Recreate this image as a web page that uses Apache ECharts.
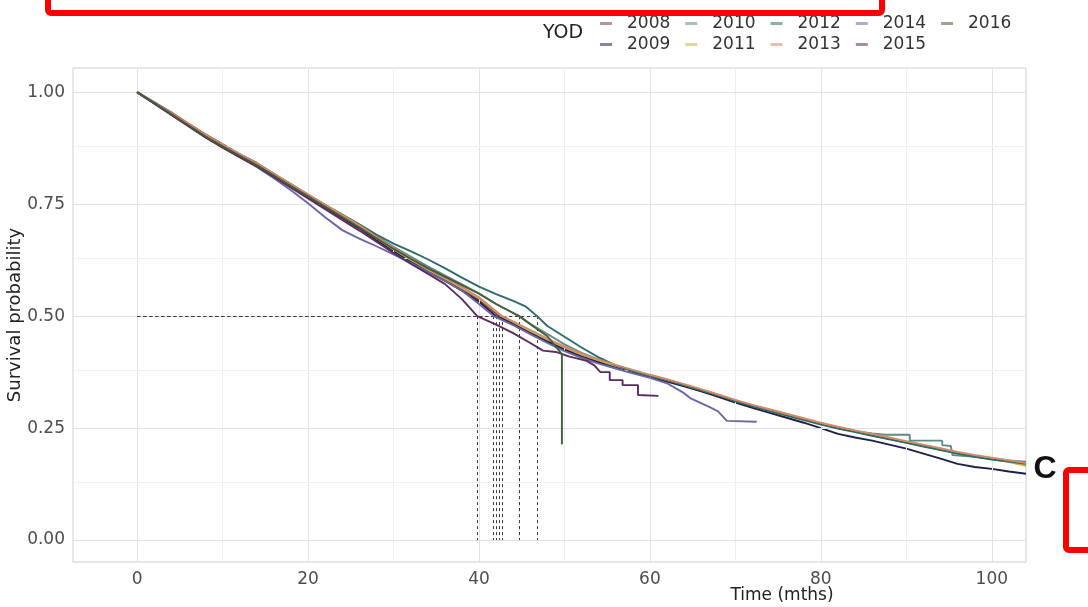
<!DOCTYPE html>
<html>
<head>
<meta charset="utf-8">
<script src="https://cdn.jsdelivr.net/npm/echarts@6/dist/echarts.min.js"></script>
<style>
  html, body { margin: 0; padding: 0; background: #ffffff; }
  #chart { width: 1088px; height: 607px; }
</style>
</head>
<body>
<div id="chart"></div>
<script>
// Kaplan–Meier survival by year of diagnosis (YOD): [months, survival probability]
const years = ['2008', '2009', '2010', '2011', '2012', '2013', '2014', '2015', '2016'];

const yod2008 = [[0,1],[2,0.978],[4,0.955],[6,0.93],[8,0.906],[10,0.884],[12,0.862],[14,0.842],[16,0.818],[18,0.795],[20,0.771],[22,0.748],[24,0.724],[26,0.701],[28,0.675],[30,0.65],[32,0.627],[34,0.604],[36,0.583],[38,0.561],[40,0.536],[42,0.506],[42.4,0.5],[44,0.484],[46,0.463],[48,0.445],[50,0.428],[52,0.413],[54,0.4],[56,0.389],[58,0.378],[60,0.367],[62,0.357],[64,0.346],[66,0.335],[68,0.322],[70,0.31],[72,0.299],[74,0.289],[76,0.279],[78,0.27],[80,0.26],[82,0.251],[84,0.243],[86,0.234],[88,0.226],[90,0.218],[92,0.21],[94,0.202],[96,0.194],[98,0.187],[100,0.181],[102,0.176],[104,0.171]];
const yod2009 = [[0,1],[2,0.975],[4,0.95],[6,0.925],[8,0.9],[10,0.878],[12,0.857],[14,0.836],[16,0.813],[18,0.789],[20,0.766],[22,0.742],[24,0.719],[26,0.696],[28,0.67],[30,0.645],[32,0.622],[34,0.6],[36,0.579],[38,0.557],[40,0.532],[42,0.5],[44,0.482],[46,0.462],[48,0.443],[50,0.425],[52,0.41],[54,0.397],[56,0.385],[58,0.374],[60,0.364],[62,0.354],[64,0.343],[66,0.332],[68,0.32],[70,0.307],[72,0.295],[74,0.284],[76,0.273],[78,0.262],[80,0.25],[82,0.237],[84,0.229],[86,0.222],[88,0.213],[90,0.204],[92,0.193],[94,0.182],[96,0.17],[98,0.163],[100,0.159],[102,0.153],[104,0.148]];
const yod2010 = [[0,1],[2,0.977],[4,0.953],[6,0.928],[8,0.904],[10,0.882],[12,0.861],[14,0.84],[16,0.817],[18,0.793],[20,0.77],[22,0.748],[24,0.726],[26,0.704],[28,0.679],[30,0.655],[32,0.633],[34,0.611],[36,0.591],[38,0.571],[40,0.551],[42,0.527],[44,0.507],[44.7,0.5],[46,0.483],[48,0.46],[50,0.437],[52,0.418],[54,0.403],[56,0.39],[58,0.378],[60,0.367],[62,0.357],[64,0.346],[66,0.335],[68,0.323],[70,0.311],[72,0.3],[74,0.29],[76,0.28],[78,0.27],[80,0.26],[82,0.251],[84,0.243],[86,0.238],[87.5,0.235],[90.4,0.235],[90.4,0.222],[94.2,0.222],[94.2,0.212],[95.2,0.21],[95.4,0.19],[98,0.186],[100,0.182],[102,0.178],[104,0.175]];
const yod2011 = [[0,1],[2,0.976],[4,0.952],[6,0.928],[8,0.903],[10,0.881],[12,0.86],[14,0.839],[16,0.816],[18,0.792],[20,0.769],[22,0.746],[24,0.723],[26,0.7],[28,0.674],[30,0.649],[32,0.626],[34,0.604],[36,0.584],[38,0.563],[40,0.54],[42,0.51],[42.7,0.5],[44,0.487],[46,0.467],[48,0.448],[50,0.43],[52,0.414],[54,0.401],[56,0.389],[58,0.378],[60,0.368],[62,0.358],[64,0.347],[66,0.336],[68,0.324],[70,0.312],[72,0.3],[74,0.29],[76,0.28],[78,0.27],[80,0.26],[82,0.25],[84,0.242],[86,0.234],[88,0.227],[90,0.219],[92,0.211],[94,0.203],[96,0.195],[98,0.188],[100,0.181],[102,0.174],[104,0.166]];
const yod2012 = [[0,1],[2,0.976],[4,0.951],[6,0.926],[8,0.902],[10,0.88],[12,0.859],[14,0.838],[16,0.815],[18,0.792],[20,0.77],[22,0.748],[24,0.727],[26,0.705],[28,0.682],[30,0.662],[32,0.645],[34,0.627],[36,0.607],[38,0.586],[40,0.566],[42,0.549],[44,0.534],[45.5,0.521],[46.8,0.5],[48,0.478],[50,0.454],[52,0.43],[54,0.408],[56,0.39],[58,0.377],[60,0.367],[62,0.357],[64,0.346],[66,0.335],[68,0.323],[70,0.31],[72,0.299],[74,0.288],[76,0.278],[78,0.268],[80,0.258],[82,0.249],[84,0.241],[86,0.233],[88,0.225],[90,0.217],[92,0.209],[94,0.201],[96,0.193],[98,0.186],[100,0.18],[102,0.175],[104,0.17]];
const yod2013 = [[0,1],[2,0.977],[4,0.954],[6,0.93],[8,0.905],[10,0.883],[12,0.862],[14,0.841],[16,0.818],[18,0.795],[20,0.772],[22,0.749],[24,0.726],[26,0.703],[28,0.677],[30,0.652],[32,0.629],[34,0.606],[36,0.586],[38,0.565],[40,0.542],[42,0.511],[42.7,0.5],[44,0.488],[46,0.469],[48,0.45],[50,0.432],[52,0.416],[54,0.403],[56,0.391],[58,0.38],[60,0.369],[62,0.359],[64,0.348],[66,0.337],[68,0.325],[70,0.313],[72,0.302],[74,0.292],[76,0.282],[78,0.272],[80,0.262],[82,0.253],[84,0.245],[86,0.237],[88,0.229],[90,0.221],[92,0.213],[94,0.205],[96,0.197],[98,0.19],[100,0.184],[102,0.178],[104,0.172]];
const yod2014 = [[0,1],[2,0.975],[4,0.95],[6,0.925],[8,0.9],[10,0.877],[12,0.855],[14,0.833],[16,0.808],[18,0.781],[20,0.752],[22,0.721],[24,0.692],[26,0.673],[28,0.656],[30,0.638],[32,0.619],[34,0.599],[36,0.579],[38,0.557],[40,0.527],[41.7,0.5],[44,0.48],[46,0.46],[48,0.44],[50,0.422],[52,0.407],[54,0.394],[56,0.383],[58,0.372],[60,0.362],[62,0.35],[64,0.328],[64.7,0.317],[67,0.297],[68,0.287],[69,0.266],[72.5,0.264]];
const yod2015 = [[0,1],[2,0.975],[4,0.949],[6,0.924],[8,0.899],[10,0.876],[12,0.855],[14,0.834],[16,0.811],[18,0.787],[20,0.763],[22,0.739],[24,0.715],[26,0.691],[28,0.666],[30,0.641],[32,0.617],[34,0.595],[36,0.572],[38,0.538],[39.8,0.5],[42,0.481],[44,0.462],[46,0.44],[47.5,0.423],[49,0.42],[50.5,0.41],[52.6,0.4],[53.5,0.39],[54.2,0.375],[55.3,0.375],[55.3,0.357],[56.8,0.357],[56.8,0.346],[58.6,0.346],[58.6,0.324],[61,0.322]];
const yod2016 = [[0,1],[2,0.976],[4,0.951],[6,0.926],[8,0.901],[10,0.879],[12,0.858],[14,0.837],[16,0.814],[18,0.79],[20,0.767],[22,0.744],[24,0.721],[26,0.698],[28,0.674],[30,0.65],[32,0.628],[34,0.607],[36,0.588],[38,0.569],[40,0.55],[42,0.527],[44,0.507],[44.7,0.5],[46,0.482],[48,0.455],[49.7,0.415],[49.7,0.214]];

const curves = [yod2008, yod2009, yod2010, yod2011, yod2012, yod2013, yod2014, yod2015, yod2016];

// median survival time (months) of each YOD curve
const medians = [42.4, 42.0, 44.7, 42.7, 46.8, 42.7, 41.7, 39.8, 44.7];

// axis ticks and grid positions
const xTicks = [0, 20, 40, 60, 80, 100];
const xMinor = [10, 30, 50, 70, 90];
const yTicks = [0, 0.25, 0.5, 0.75, 1];
const yMinor = [0.125, 0.375, 0.625, 0.875];

const palette = ['#7d3c55', '#1e2145', '#5e8b87', '#c6b64c', '#2d6c68', '#d38b66', '#6c65a7', '#5b2b5e', '#445c3c'];

const FONT = 'DejaVu Sans';

const gridLines = [];
xTicks.forEach(v => gridLines.push({ xAxis: v, lineStyle: { color: '#e2e2e2', width: 1, type: 'solid' } }));
xMinor.forEach(v => gridLines.push({ xAxis: v, lineStyle: { color: '#efefef', width: 1, type: 'solid' } }));
yTicks.forEach(v => gridLines.push({ yAxis: v, lineStyle: { color: '#e2e2e2', width: 1, type: 'solid' } }));
yMinor.forEach(v => gridLines.push({ yAxis: v, lineStyle: { color: '#efefef', width: 1, type: 'solid' } }));

const medianLines = [];
medians.forEach(m => {
  medianLines.push([{ coord: [0, 0.5] }, { coord: [m, 0.5] }]);
  medianLines.push([{ coord: [m, 0.5] }, { coord: [m, 0] }]);
});

const series = [
  {
    name: 'grid', type: 'line', data: [], silent: true, z: 1,
    markLine: { silent: true, symbol: ['none', 'none'], label: { show: false }, data: gridLines, animation: false }
  },
  {
    name: 'median', type: 'line', data: [], silent: true, z: 2,
    markLine: {
      silent: true, symbol: ['none', 'none'], label: { show: false },
      lineStyle: { color: '#3a3a3a', width: 1, type: [3, 3] },
      data: medianLines, animation: false
    }
  }
];
years.forEach((y, i) => {
  series.push({
    name: y, type: 'line', data: curves[i], showSymbol: false, symbol: 'none',
    lineStyle: { width: 1.9, color: palette[i] }, itemStyle: { color: palette[i] },
    z: 3 + i, animation: false
  });
});

const legendBase = {
  left: 595, icon: 'rect', itemWidth: 12, itemHeight: 3, itemGap: 15,
  selectedMode: false,
  itemStyle: { opacity: 0.55 },
  textStyle: { fontFamily: FONT, fontSize: 17, color: '#333', padding: [0, 0, 0, 10] }
};

const chart = echarts.init(document.getElementById('chart'), null, { renderer: 'canvas' });
chart.setOption({
  animation: false,
  backgroundColor: '#ffffff',
  grid: { left: 73, right: 62, top: 68, bottom: 45, show: true, borderColor: '#cfcfcf', borderWidth: 1, backgroundColor: 'transparent' },
  xAxis: {
    type: 'value', min: -7.5, max: 104,
    axisLine: { show: false },
    axisTick: { show: true, customValues: xTicks, length: 4, lineStyle: { color: '#555' } },
    axisLabel: { customValues: xTicks, margin: 9, fontFamily: FONT, fontSize: 17, color: '#4d4d4d' },
    splitLine: { show: false }
  },
  yAxis: {
    type: 'value', min: -0.049, max: 1.054,
    axisLine: { show: false },
    axisTick: { show: true, customValues: yTicks, length: 4, lineStyle: { color: '#555' } },
    axisLabel: { customValues: yTicks, margin: 8, fontFamily: FONT, fontSize: 17, color: '#4d4d4d', formatter: v => v.toFixed(2) },
    splitLine: { show: false }
  },
  legend: [
    Object.assign({}, legendBase, { top: 10, data: ['2008', '2010', '2012', '2014', '2016'] }),
    Object.assign({}, legendBase, { top: 31, data: ['2009', '2011', '2013', '2015'] })
  ],
  graphic: [
    { type: 'text', left: 543, top: 24, style: { text: 'YOD', font: '19px "DejaVu Sans"', fill: '#222' } },
    { type: 'text', x: 782, y: 596, style: { text: 'Time (mths)', font: '17px "DejaVu Sans"', fill: '#222', textAlign: 'center', textVerticalAlign: 'middle' } },
    { type: 'text', x: 15, y: 315, rotation: Math.PI / 2, style: { text: 'Survival probability', font: '18px "DejaVu Sans"', fill: '#222', textAlign: 'center', textVerticalAlign: 'middle' } },
    { type: 'text', x: 1045, y: 469, style: { text: 'C', font: 'bold 32px "Liberation Sans"', fill: '#111', textAlign: 'center', textVerticalAlign: 'middle' } },
    { type: 'rect', shape: { x: 48, y: -20, width: 834, height: 33, r: 3 }, style: { fill: '#ffffff', stroke: '#ff0000', lineWidth: 6 }, z: 100 },
    { type: 'rect', shape: { x: 1066, y: 470, width: 60, height: 80, r: 3 }, style: { fill: '#ffffff', stroke: '#ff0000', lineWidth: 6 }, z: 100 }
  ],
  series: series
});
</script>
</body>
</html>
